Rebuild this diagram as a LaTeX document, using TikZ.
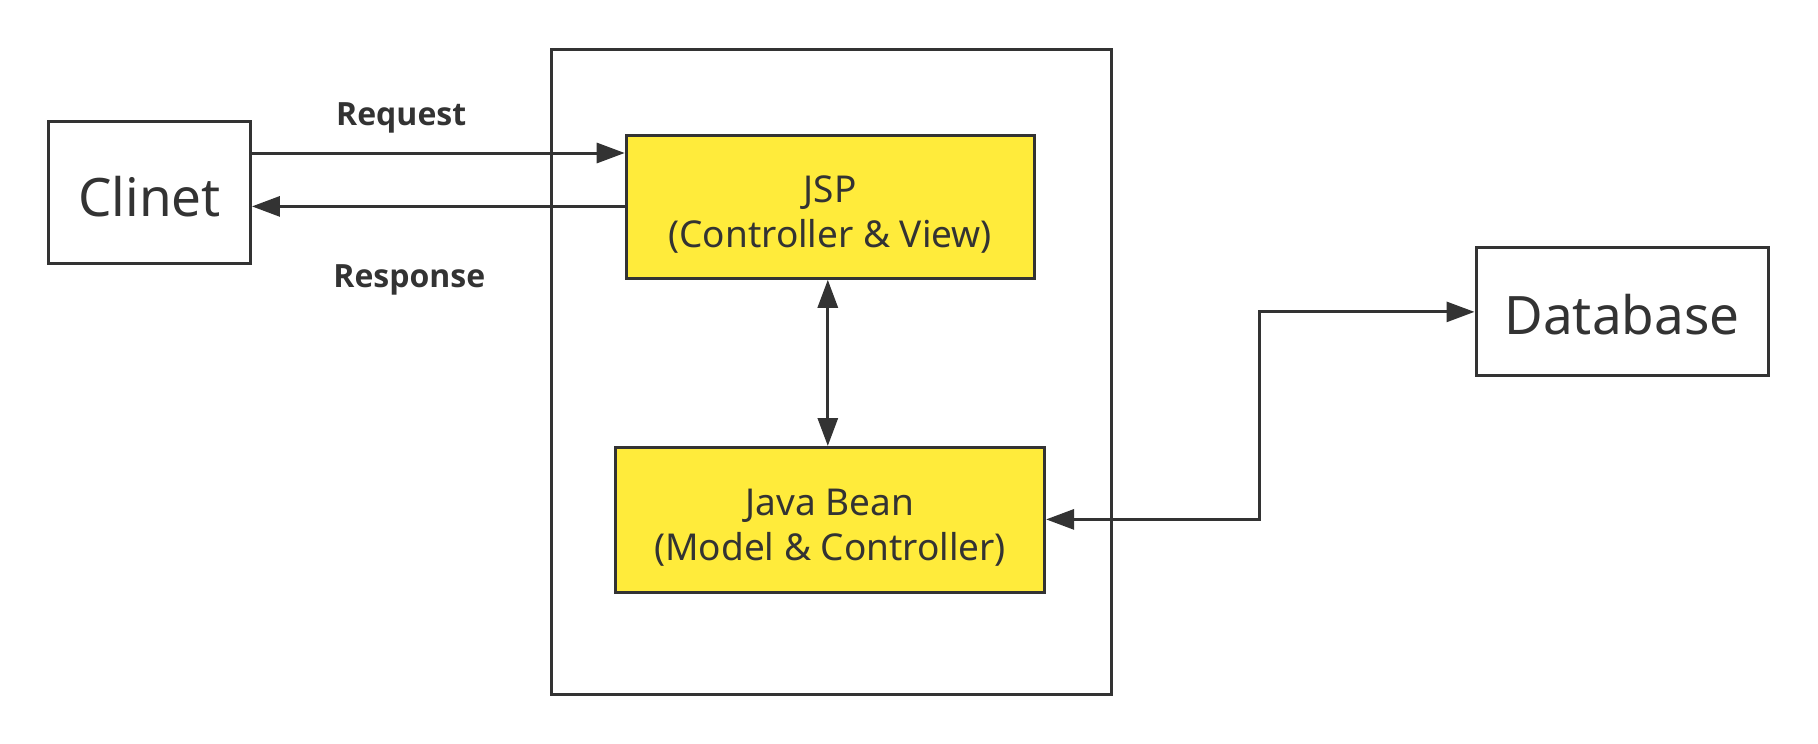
\documentclass[tikz,border=0pt]{standalone}
\usepackage{fontspec}
\setmainfont{Noto Sans}
\newfontfamily\lblfont{Open Sans}
\usetikzlibrary{arrows.meta}
\definecolor{ink}{HTML}{333333}
\definecolor{yel}{HTML}{FFEB3B}
\newcommand\lowertxt[2]{\raisebox{-#1}[\height][\depth]{#2}}
\tikzset{
  box/.style={draw=ink, line width=3pt, rectangle, inner sep=0pt, text=ink, align=center},
  ybox/.style={box, fill=yel, font=\fontsize{37}{45}\selectfont},
  wbox/.style={box, fill=white, font=\fontsize{53}{60}\selectfont},
  conn/.style={draw=ink, line width=3pt},
  tip/.tip={Triangle[length=28pt,width=20pt]},
  lbl/.style={text=ink, font=\lblfont\fontsize{32}{36}\selectfont\bfseries, inner sep=0pt}
}
\begin{document}
\begin{tikzpicture}[x=1pt,y=-1pt]
\useasboundingbox (0,0) rectangle (1818,744);
\node[box, minimum width=560pt, minimum height=644.6pt] (cont) at (831.9,372.2) {};
\node[wbox, minimum width=201.7pt, minimum height=141.5pt] (cli) at (149.6,192.5) {\lowertxt{4pt}{Clinet}};
\node[ybox, minimum width=408pt, minimum height=142.6pt] (jsp) at (830.2,207) {\lowertxt{8pt}{JSP}\\\lowertxt{8pt}{(Controller \& View)}};
\node[ybox, minimum width=429pt, minimum height=145pt] (bean) at (830.1,520) {\lowertxt{8pt}{Java Bean}\\\lowertxt{8pt}{(Model \& Controller)}};
\node[wbox, minimum width=292pt, minimum height=128.6pt] (db) at (1622,311.3) {\lowertxt{3pt}{Database}};
\coordinate (bend) at (1259,311.9);
\draw[conn, -tip] (cli.east |- 0,153) -- (jsp.west |- 0,153);
\draw[conn, -tip] (jsp.west |- 0,206.4) -- (cli.east |- 0,206.4);
\draw[conn, tip-tip] (jsp.south -| 827.8,0) -- (bean.north -| 827.8,0);
\draw[conn, tip-tip] (bean.east |- 0,519.4) -| (bend) -- (db.west |- bend);
\node[lbl] (req) at (401.2,117.5) {Request};
\node[lbl] (resp) at (409.3,279.5) {Response};
\end{tikzpicture}
\end{document}
